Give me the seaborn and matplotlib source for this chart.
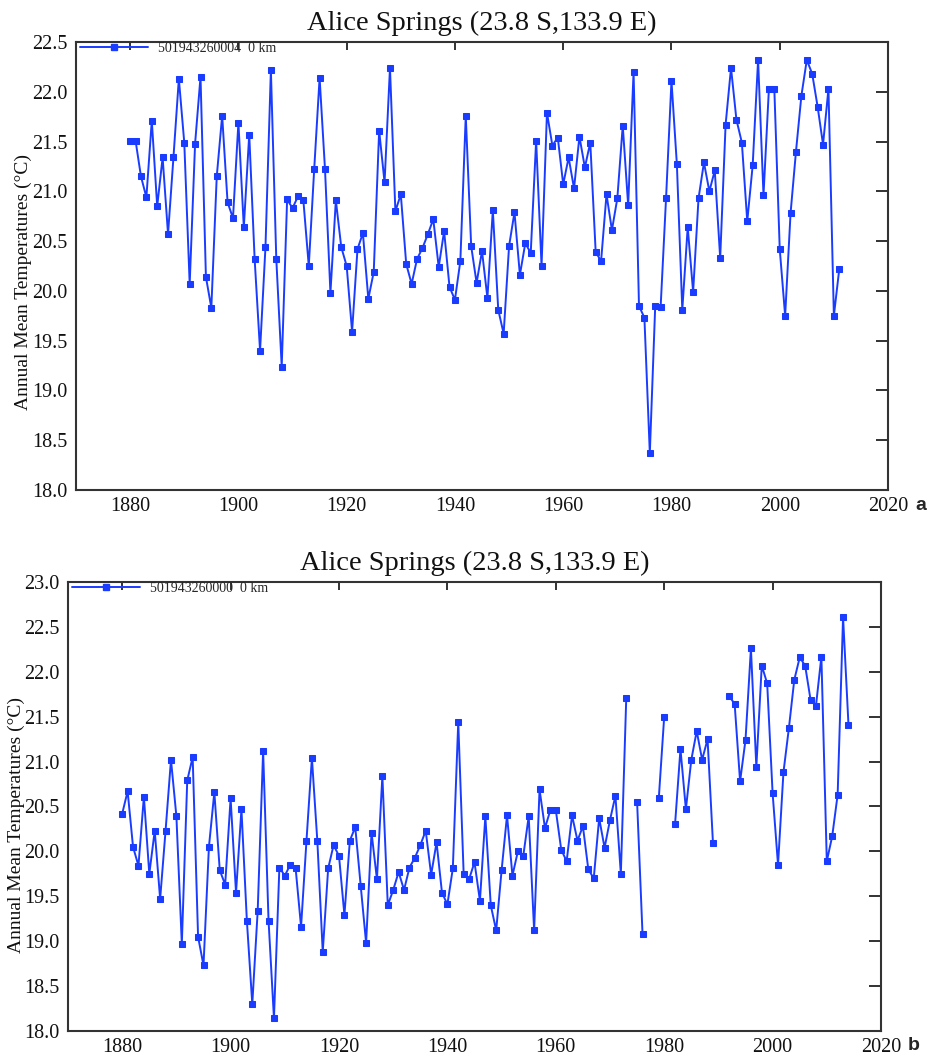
import numpy as np
import pandas as pd
import matplotlib
matplotlib.use("Agg")
import matplotlib.pyplot as plt
from matplotlib.lines import Line2D
import seaborn as sns

sns.set_style("white")
plt.rcParams["font.family"] = ["Liberation Serif", "DejaVu Serif"]

title = "Alice Springs (23.8 S,133.9 E)"
ylabel = "Annual Mean Temperatures (\u00b0C)"

# panel a: station 501943260004
years_a = list(range(1880, 2012))
temp_a = [
    21.51, 21.51, 21.15, 20.94, 21.71, 20.85, 21.34, 20.57, 21.34, 22.13,
    21.49, 20.07, 21.48, 22.15, 20.14, 19.83, 21.15, 21.76, 20.89, 20.73,
    21.69, 20.64, 21.57, 20.32, 19.40, 20.44, 22.22, 20.32, 19.24, 20.92,
    20.83, 20.95, 20.91, 20.25, 21.22, 22.14, 21.22, 19.98, 20.91, 20.44,
    20.25, 19.59, 20.42, 20.58, 19.92, 20.19, 21.61, 21.09, 22.24, 20.80,
    20.97, 20.27, 20.07, 20.32, 20.43, 20.57, 20.72, 20.24, 20.60, 20.04,
    19.91, 20.30, 21.76, 20.45, 20.08, 20.40, 19.93, 20.81, 19.81, 19.57,
    20.45, 20.79, 20.16, 20.48, 20.38, 21.51, 20.25, 21.79, 21.46, 21.54,
    21.07, 21.34, 21.03, 21.55, 21.24, 21.49, 20.39, 20.30, 20.97, 20.61,
    20.93, 21.66, 20.86, 22.20, 19.85, 19.73, 18.37, 19.85, 19.84, 20.93,
    22.11, 21.27, 19.81, 20.64, 19.99, 20.93, 21.29, 21.00, 21.21, 20.33,
    21.67, 22.24, 21.72, 21.49, 20.70, 21.26, 22.32, 20.96, 22.03, 22.03,
    20.42, 19.75, 20.78, 21.40, 21.96, 22.32, 22.18, 21.85, 21.47, 22.03,
    19.75, 20.22,
]
legend_a = "501943260004  0 km"

# panel b: station 501943260000 (gaps = missing years)
nan = np.nan
years_b = list(range(1880, 2015))
temp_b = [
    20.42, 20.67, 20.05, 19.84, 20.61, 19.75, 20.23, 19.47, 20.23, 21.02,
    20.39, 18.97, 20.79, 21.05, 19.05, 18.73, 20.05, 20.66, 19.79, 19.63,
    20.59, 19.54, 20.47, 19.23, 18.30, 19.34, 21.12, 19.23, 18.14, 19.82,
    19.73, 19.85, 19.81, 19.16, 20.12, 21.04, 20.12, 18.88, 19.81, 20.07,
    19.95, 19.29, 20.12, 20.27, 19.62, 18.98, 20.21, 19.69, 20.84, 19.40,
    19.57, 19.77, 19.57, 19.82, 19.93, 20.07, 20.23, 19.74, 20.10, 19.54,
    19.41, 19.81, 21.44, 19.75, 19.69, 19.88, 19.45, 20.39, 19.40, 19.12,
    19.79, 20.40, 19.73, 20.00, 19.95, 20.39, 19.12, 20.69, 20.26, 20.46,
    20.46, 20.02, 19.89, 20.40, 20.12, 20.28, 19.80, 19.70, 20.37, 20.04,
    20.35, 20.62, 19.75, 21.71, nan, 20.55, 19.08, nan, nan, 20.59,
    21.50, nan, 20.30, 21.14, 20.47, 21.02, 21.34, 21.02, 21.25, 20.09,
    nan, nan, 21.73, 21.64, 20.78, 21.24, 22.26, 20.94, 22.07, 21.87,
    20.65, 19.85, 20.88, 21.37, 21.91, 22.16, 22.07, 21.69, 21.62, 22.17,
    19.89, 20.17, 20.63, 22.61, 21.41,
]
legend_b = "501943260000  0 km"

blue = "#1a3cff"
W, H = 935, 1057
fig = plt.figure(figsize=(W / 100, H / 100), dpi=100)


def make_df(years, temps):
    df = pd.DataFrame({"year": years, "temp": temps})
    df["segment"] = df["temp"].isna().cumsum()
    return df.dropna()


def draw(box, years, temps, ylim, leg_text, tag, tag_xy, ylab_xy):
    l, r, t, b = box
    ax = fig.add_axes([l / W, 1 - b / H, (r - l) / W, (b - t) / H])
    df = make_df(years, temps)
    sns.lineplot(data=df, x="year", y="temp", units="segment", estimator=None,
                 color=blue, lw=1.4, marker="s", markersize=4.5,
                 markeredgecolor=blue, ax=ax, legend=False)
    ax.set_xlim(1870, 2020)
    ax.set_ylim(*ylim)
    ax.set_xticks(np.arange(1880, 2021, 20))
    ax.set_yticks(np.arange(ylim[0], ylim[1] + 0.01, 0.5))
    ax.yaxis.set_major_formatter(matplotlib.ticker.FormatStrFormatter("%.1f"))
    ax.tick_params(axis="both", direction="in", top=True, right=True,
                   labelsize=14.5, colors="#222222", width=1.3,
                   labelcolor="#111111")
    ax.tick_params(axis="y", length=9, pad=6)
    ax.tick_params(axis="x", length=6, pad=5)
    for s in ax.spines.values():
        s.set_color("#333333")
        s.set_linewidth(1.5)
    ax.set_xlabel("")
    ax.set_ylabel(ylabel, fontsize=14, color="#111111")
    ax.yaxis.set_label_coords((ylab_xy[0] - l) / (r - l),
                              1 - (ylab_xy[1] - t) / (b - t))
    ax.set_title(title, fontsize=20.5, pad=9, color="#111111")
    handle = Line2D([], [], color=blue, lw=1.4, marker="s", markersize=4.5)
    ax.legend([handle], [leg_text], loc="upper left", frameon=False,
              handlelength=4.9, handletextpad=0.7, borderaxespad=0.0,
              borderpad=0.0, bbox_to_anchor=(4 / (r - l), 1.0),
              prop={"size": 10})
    fig.text(tag_xy[0] / W, 1 - tag_xy[1] / H, tag, fontsize=14,
             fontweight="bold", family="Liberation Sans",
             ha="center", va="center")
    return ax


draw((76, 888, 42, 490), years_a, temp_a, (18.0, 22.5), legend_a, "a",
     (921, 505), (32, 282))
draw((68, 881, 582, 1031), years_b, temp_b, (18.0, 23.0), legend_b, "b",
     (914, 1045), (25, 825))

fig.savefig("out.png", dpi=100, facecolor="white")
